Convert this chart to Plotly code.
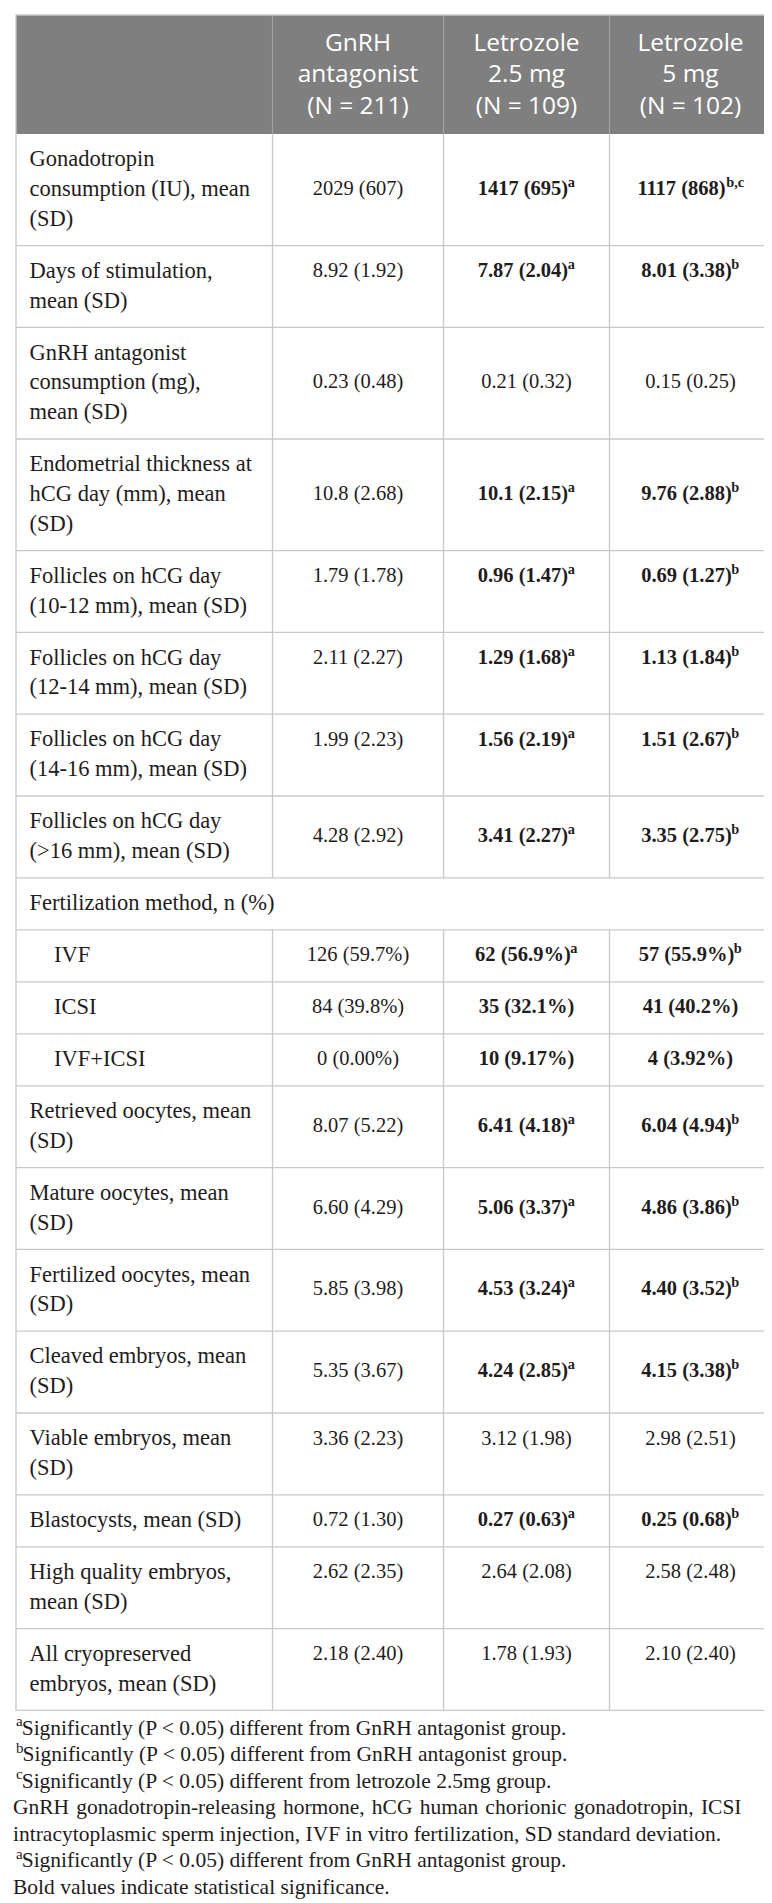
import plotly.graph_objects as go

# table content
col_headers = ["GnRH<br>antagonist<br>(N = 211)", "Letrozole<br>2.5 mg<br>(N = 109)", "Letrozole<br>5 mg<br>(N = 102)"]

row_labels = [
    "Gonadotropin<br>consumption (IU), mean<br>(SD)",
    "Days of stimulation,<br>mean (SD)",
    "GnRH antagonist<br>consumption (mg),<br>mean (SD)",
    "Endometrial thickness at<br>hCG day (mm), mean<br>(SD)",
    "Follicles on hCG day<br>(10-12 mm), mean (SD)",
    "Follicles on hCG day<br>(12-14 mm), mean (SD)",
    "Follicles on hCG day<br>(14-16 mm), mean (SD)",
    "Follicles on hCG day<br>(&gt;16 mm), mean (SD)",
    "Fertilization method, n (%)",
    "IVF",
    "ICSI",
    "IVF+ICSI",
    "Retrieved oocytes, mean<br>(SD)",
    "Mature oocytes, mean<br>(SD)",
    "Fertilized oocytes, mean<br>(SD)",
    "Cleaved embryos, mean<br>(SD)",
    "Viable embryos, mean<br>(SD)",
    "Blastocysts, mean (SD)",
    "High quality embryos,<br>mean (SD)",
    "All cryopreserved<br>embryos, mean (SD)",
]
sub_rows = ["IVF", "ICSI", "IVF+ICSI"]
span_rows = ["Fertilization method, n (%)"]

gnrh_vals = ["2029 (607)", "8.92 (1.92)", "0.23 (0.48)", "10.8 (2.68)", "1.79 (1.78)",
             "2.11 (2.27)", "1.99 (2.23)", "4.28 (2.92)", "", "126 (59.7%)",
             "84 (39.8%)", "0 (0.00%)", "8.07 (5.22)", "6.60 (4.29)", "5.85 (3.98)",
             "5.35 (3.67)", "3.36 (2.23)", "0.72 (1.30)", "2.62 (2.35)", "2.18 (2.40)"]
let25_vals = ["1417 (695)", "7.87 (2.04)", "0.21 (0.32)", "10.1 (2.15)", "0.96 (1.47)",
              "1.29 (1.68)", "1.56 (2.19)", "3.41 (2.27)", "", "62 (56.9%)",
              "35 (32.1%)", "10 (9.17%)", "6.41 (4.18)", "5.06 (3.37)", "4.53 (3.24)",
              "4.24 (2.85)", "3.12 (1.98)", "0.27 (0.63)", "2.64 (2.08)", "1.78 (1.93)"]
let5_vals = ["1117 (868)", "8.01 (3.38)", "0.15 (0.25)", "9.76 (2.88)", "0.69 (1.27)",
             "1.13 (1.84)", "1.51 (2.67)", "3.35 (2.75)", "", "57 (55.9%)",
             "41 (40.2%)", "4 (3.92%)", "6.04 (4.94)", "4.86 (3.86)", "4.40 (3.52)",
             "4.15 (3.38)", "2.98 (2.51)", "0.25 (0.68)", "2.58 (2.48)", "2.10 (2.40)"]
let25_sup = ["a", "a", "", "a", "a", "a", "a", "a", "", "a", "", "", "a", "a", "a", "a", "", "a", "", ""]
let5_sup = ["b,c", "b", "", "b", "b", "b", "b", "b", "", "b", "", "", "b", "b", "b", "b", "", "b", "", ""]
bold_rows = [1, 1, 0, 1, 1, 1, 1, 1, 0, 1, 1, 1, 1, 1, 1, 1, 0, 1, 0, 0]

footnote_marks = ["a", "b", "c", "", "", "a", ""]
footnotes = [
    "Significantly (P &lt; 0.05) different from GnRH antagonist group.",
    "Significantly (P &lt; 0.05) different from GnRH antagonist group.",
    "Significantly (P &lt; 0.05) different from letrozole 2.5mg group.",
    "GnRH gonadotropin-releasing hormone, hCG human chorionic gonadotropin, ICSI",
    "intracytoplasmic sperm injection, IVF in vitro fertilization, SD standard deviation.",
    "Significantly (P &lt; 0.05) different from GnRH antagonist group.",
    "Bold values indicate statistical significance.",
]

# value rows where the numbers sit on the first text line instead of the middle
top_aligned = [0, 1, 0, 0, 1, 1, 1, 0, 0, 0, 0, 0, 0, 0, 0, 0, 1, 0, 1, 1]

# layout in pixels
W, H = 772, 1903
col_x = [8, 264.5, 435.5, 601.5, 763.5]
top = 7
header_h = 119
row_pad = 52
line_h = 29.8
first_line = 26.5
serif = "Liberation Serif"
sans = "Open Sans"
ink = "#1f1c1d"
grid = "#c8c8c8"
val_size = 20.5
note_size = 21.5
sup_ratio = 0.7

# Liberation Serif advance widths (em) for the characters used in cells and marks
adv_regular = {".": .25, " ": .25, "(": .333, ")": .333, "%": .833, ",": .25, "a": .444, "b": .5, "c": .444}
adv_bold = {".": .25, " ": .25, "(": .333, ")": .333, "%": 1.0, ",": .25, "a": .5, "b": .556, "c": .444}


def text_width(s, size, bold=False):
    table = adv_bold if bold else adv_regular
    return sum(.5 if ch.isdigit() else table.get(ch, .5) for ch in s) * size


n_lines = [lab.count("<br>") + 1 for lab in row_labels]
row_tops = []
y = top + header_h
for n in n_lines:
    row_tops.append(y)
    y += row_pad + line_h * (n - 1)
table_bottom = y

shapes = []
# header
shapes.append(dict(type="rect", x0=col_x[0], x1=col_x[-1], y0=top, y1=top + header_h,
                   fillcolor="#7f7f7f", line=dict(width=0), layer="below"))
for xv in col_x[1:-1]:
    shapes.append(dict(type="line", x0=xv, x1=xv, y0=top, y1=top + header_h,
                       line=dict(color="#a3a3a3", width=1.2), layer="below"))
# body grid
for i, rt in enumerate(row_tops):
    rb = row_tops[i + 1] if i + 1 < len(row_tops) else table_bottom
    if i > 0:
        shapes.append(dict(type="line", x0=col_x[0], x1=col_x[-1], y0=rt, y1=rt,
                           line=dict(color=grid, width=1.3), layer="below"))
    if row_labels[i] not in span_rows:
        for xv in col_x[1:-1]:
            shapes.append(dict(type="line", x0=xv, x1=xv, y0=rt, y1=rb,
                               line=dict(color=grid, width=1.3), layer="below"))
shapes.append(dict(type="rect", x0=col_x[0], x1=col_x[-1], y0=top, y1=table_bottom,
                   line=dict(color=grid, width=1.3), layer="below"))

fig = go.Figure()

# header text
hx, hy, ht = [], [], []
for j, head in enumerate(col_headers):
    cx = (col_x[j + 1] + col_x[j + 2]) / 2
    for k, part in enumerate(head.split("<br>")):
        hx.append(cx)
        hy.append(top + header_h / 2 + 1.8 + (k - 1) * 31.7)
        ht.append(part)
fig.add_trace(go.Scatter(x=hx, y=hy, text=ht, mode="text", textposition="middle center",
                         textfont=dict(family=sans, size=24.5, color="white"),
                         hoverinfo="skip", showlegend=False))

# row labels
lx, ly, lt = [], [], []
for i, lab in enumerate(row_labels):
    indent = 46 if lab in sub_rows else 21.5
    for k, part in enumerate(lab.split("<br>")):
        lx.append(indent)
        ly.append(row_tops[i] + first_line + k * line_h)
        lt.append(part)
fig.add_trace(go.Scatter(x=lx, y=ly, text=lt, mode="text", textposition="middle right",
                         textfont=dict(family=serif, size=22.5, color=ink),
                         hoverinfo="skip", showlegend=False))

# value cells, regular and bold, with superscript marks drawn as their own small text
cells = {False: ([], [], []), True: ([], [], [])}
sx, sy, st = [], [], []
sup_size = val_size * sup_ratio
for i in range(len(row_labels)):
    if row_labels[i] in span_rows:
        continue
    h = row_pad + line_h * (n_lines[i] - 1)
    yv = row_tops[i] + first_line if top_aligned[i] else row_tops[i] + h / 2
    row_cells = [(gnrh_vals[i], "", False),
                 (let25_vals[i], let25_sup[i], bool(bold_rows[i])),
                 (let5_vals[i], let5_sup[i], bool(bold_rows[i]))]
    for j, (val, sup, bold) in enumerate(row_cells):
        cx = (col_x[j + 1] + col_x[j + 2]) / 2
        w_val = text_width(val, val_size, bold)
        w_sup = text_width(sup, sup_size, bold)
        xs, ys, ts = cells[bold]
        xs.append(cx - w_sup / 2)
        ys.append(yv)
        ts.append(val)
        if sup:
            left = cx - (w_val + w_sup) / 2
            sx.append(left + w_val + w_sup / 2 - 0.5)
            sy.append(yv - 6.4)
            st.append(sup)
for bold, (xs, ys, ts) in cells.items():
    fig.add_trace(go.Scatter(x=xs, y=ys, text=ts, mode="text", textposition="middle center",
                             textfont=dict(family=serif, size=val_size, color=ink,
                                           weight="bold" if bold else "normal"),
                             hoverinfo="skip", showlegend=False))
fig.add_trace(go.Scatter(x=sx, y=sy, text=st, mode="text", textposition="middle center",
                         textfont=dict(family=serif, size=sup_size, color=ink, weight="bold"),
                         hoverinfo="skip", showlegend=False))

# footnotes (the long line gets a little extra word spacing, like the justified original)
fx, fy, ft = [], [], []
mx, my, mt = [], [], []
mark_size = note_size * sup_ratio
for k, note in enumerate(footnotes):
    if k == 3:
        note = note.replace(" ", " \u200a")
    yk = table_bottom + 19 + k * 26.5
    w_mark = text_width(footnote_marks[k], mark_size)
    if footnote_marks[k]:
        mx.append(col_x[0] + w_mark / 2)
        my.append(yk - 6.8)
        mt.append(footnote_marks[k])
        w_mark += 2
    fx.append(col_x[0] - 3 + w_mark)
    fy.append(yk)
    ft.append(note)
fig.add_trace(go.Scatter(x=fx, y=fy, text=ft, mode="text", textposition="middle right",
                         textfont=dict(family=serif, size=note_size, color=ink),
                         hoverinfo="skip", showlegend=False))
fig.add_trace(go.Scatter(x=mx, y=my, text=mt, mode="text", textposition="middle center",
                         textfont=dict(family=serif, size=mark_size, color=ink),
                         hoverinfo="skip", showlegend=False))

fig.update_layout(
    width=W, height=H,
    margin=dict(l=0, r=0, t=0, b=0, pad=0),
    paper_bgcolor="white", plot_bgcolor="white",
    xaxis=dict(range=[0, W], visible=False, fixedrange=True),
    yaxis=dict(range=[H, 0], visible=False, fixedrange=True),
    shapes=shapes,
    showlegend=False,
)
fig.write_html("out.html")
